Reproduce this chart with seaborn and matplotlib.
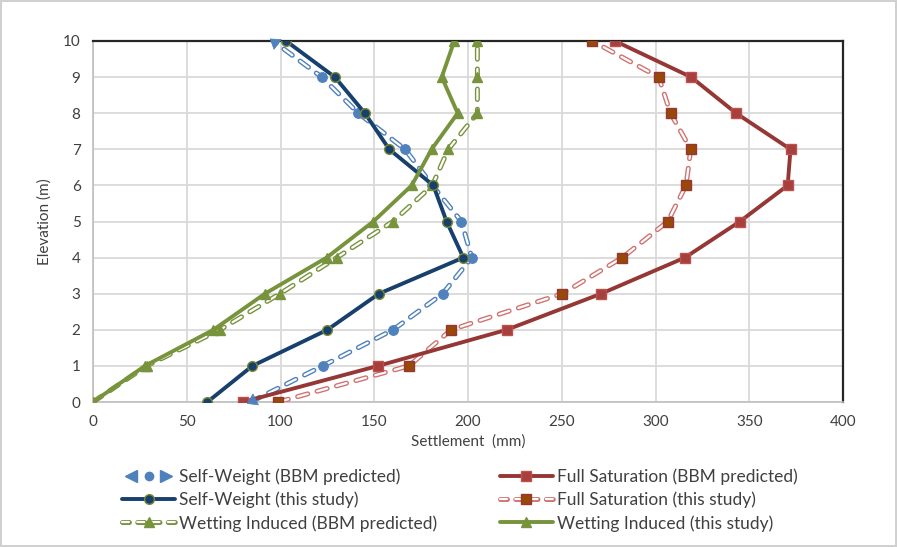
import numpy as np
import pandas as pd
import matplotlib
matplotlib.use("Agg")
import matplotlib.pyplot as plt
import seaborn as sns
from matplotlib.lines import Line2D
from matplotlib.legend_handler import HandlerTuple

# ---------------- data ----------------
elevation = [0, 1, 2, 3, 4, 5, 6, 7, 8, 9, 10]

sw_bbm   = [84, 122.5, 160, 186.5, 202, 196.5, 181, 166.4, 141.5, 122, 96]
sw_study = [61, 85, 125, 152.5, 197.5, 188.6, 181.5, 158, 145, 129, 103]
fs_bbm   = [80, 152, 220.6, 271, 315.7, 345, 370.5, 372, 343, 319, 278.4]
fs_study = [98.8, 168.5, 191, 250.3, 282.3, 306.5, 316.3, 318.8, 308, 301.7, 266.3]
wi_bbm   = [0, 28.6, 67.7, 99.7, 130, 160, 181, 189.5, 205, 205, 205]
wi_study = [0, 27.7, 64.2, 91.7, 124.6, 149.5, 170, 180.6, 194.5, 186, 192.7]

labels = ["Self-Weight (BBM predicted)", "Self-Weight (this study)",
          "Wetting Induced (BBM predicted)", "Full Saturation (BBM predicted)",
          "Full Saturation (this study)", "Wetting Induced (this study)"]
x_ticks = [0, 50, 100, 150, 200, 250, 300, 350, 400]
y_ticks = [0, 1, 2, 3, 4, 5, 6, 7, 8, 9, 10]

# ---------------- style ----------------
sns.set_style("white")
plt.rcParams["font.family"] = ["Lato", "DejaVu Sans"]
plt.rcParams["lines.scale_dashes"] = False

C_LBLUE = "#4F81BD"
C_DBLUE = "#17406D"
C_DRED = "#953735"
C_LRED = "#D07370"
C_BROWN = "#984807"
C_GREEN = "#77933C"
C_OLIVE = "#7A8A30"
TXT = "#404040"

fig = plt.figure(figsize=(8.97, 5.47), dpi=100)
ax = fig.add_axes([93/897, 1-402/547, 750/897, 361/547])
ax.set_xlim(0, 400)
ax.set_ylim(0, 10)

DASH = (0, (7.5, 7.0))


def solid(xv, col, marker, ms, mfc, mec, z):
    df = pd.DataFrame({"x": xv, "y": elevation})
    sns.lineplot(data=df, x="x", y="y", sort=False, estimator=None, ax=ax,
                 color=col, lw=2.8, marker=marker, markersize=ms,
                 markerfacecolor=mfc, markeredgecolor=mec, markeredgewidth=1.0,
                 zorder=z, solid_capstyle="round", solid_joinstyle="round")


def hollow(xv, col, marker, ms, mfc, mec, z):
    df = pd.DataFrame({"x": xv, "y": elevation})
    sns.lineplot(data=df, x="x", y="y", sort=False, estimator=None, ax=ax,
                 color=col, lw=3.6, linestyle=DASH, zorder=z,
                 dash_capstyle="round", dash_joinstyle="round")
    sns.lineplot(data=df, x="x", y="y", sort=False, estimator=None, ax=ax,
                 color="white", lw=1.6, linestyle=DASH, zorder=z + 0.1,
                 dash_capstyle="round", dash_joinstyle="round")
    if marker is not None:
        sns.lineplot(data=df, x="x", y="y", sort=False, estimator=None, ax=ax,
                     color=col, lw=0, marker=marker, markersize=ms,
                     markerfacecolor=mfc, markeredgecolor=mec, markeredgewidth=1.0,
                     zorder=z + 0.2)


# self-weight BBM: circles on interior points, arrowheads at both ends
df_sw = pd.DataFrame({"x": sw_bbm, "y": elevation})
hollow(sw_bbm, C_LBLUE, None, 7, C_LBLUE, C_LBLUE, 3)
sns.lineplot(data=df_sw.iloc[1:-1], x="x", y="y", sort=False, estimator=None, ax=ax,
             color=C_LBLUE, lw=0, marker="o", markersize=7, markerfacecolor=C_LBLUE,
             markeredgecolor=C_LBLUE, zorder=3.2)
solid(sw_study, C_DBLUE, "o", 7, C_DBLUE, C_OLIVE, 4)
hollow(fs_study, C_LRED, "s", 7.5, C_BROWN, C_DRED, 3)
solid(fs_bbm, C_DRED, "s", 7.5, "#A5403E", "#C0504D", 4)
hollow(wi_bbm, C_GREEN, "^", 7, C_GREEN, C_GREEN, 3)
solid(wi_study, C_GREEN, "^", 7, C_GREEN, C_GREEN, 4)

fig.canvas.draw()
for i, j in [(0, 1), (10, 9)]:
    p0 = ax.transData.transform((sw_bbm[i], elevation[i]))
    p1 = ax.transData.transform((sw_bbm[j], elevation[j]))
    d = (p0 - p1) / np.hypot(*(p0 - p1))
    tip = p0 + d * 4
    tail = p0 - d * 4
    ax.annotate("", xy=tip, xytext=tail, xycoords="figure pixels",
                textcoords="figure pixels",
                arrowprops=dict(arrowstyle="-|>,head_length=0.6,head_width=0.4",
                                color=C_LBLUE, lw=0.5, mutation_scale=11,
                                shrinkA=0, shrinkB=0),
                zorder=5, annotation_clip=False)

# ---------------- axes ----------------
ax.set_xticks(x_ticks)
ax.set_yticks(y_ticks)
ax.set_xticks(np.arange(0, 401, 10), minor=True)
ax.grid(True, which="major", color="#D9D9D9", lw=1.3)
ax.set_axisbelow(True)
ax.tick_params(axis="both", which="major", length=5, width=1, color="#BFBFBF",
               labelsize=11, labelcolor=TXT, direction="out", pad=4)
ax.tick_params(axis="x", which="minor", length=4, width=1, color="#BFBFBF",
               direction="out")
ax.tick_params(axis="y", which="minor", length=0)
for s in ["left", "bottom"]:
    ax.spines[s].set_color("#BFBFBF")
    ax.spines[s].set_linewidth(1.2)
for s in ["top", "right"]:
    ax.spines[s].set_color("#262626")
    ax.spines[s].set_linewidth(1.6)

ax.set_xlabel("Settlement  (mm)", fontsize=11, color=TXT, labelpad=4)
ax.set_ylabel("Elevation (m)", fontsize=11, color=TXT, labelpad=8)

# ---------------- legend ----------------
def h_hollow(col, marker, mfc, mec):
    return (Line2D([], [], color=col, lw=3.6, linestyle=(0, (5, 6)), dash_capstyle="round"),
            Line2D([], [], color="white", lw=1.6, linestyle=(0, (5, 6)), dash_capstyle="round"),
            Line2D([], [], lw=0, marker=marker, markersize=7, markerfacecolor=mfc,
                   markeredgecolor=mec))


def h_solid(col, marker, mfc, mec):
    return Line2D([], [], color=col, lw=2.8, marker=marker, markersize=7,
                  markerfacecolor=mfc, markeredgecolor=mec)


h_sw_bbm = (Line2D([], [], lw=0, marker="<", markersize=8, color=C_LBLUE),
            Line2D([], [], lw=0, marker="o", markersize=6, color=C_LBLUE),
            Line2D([], [], lw=0, marker=">", markersize=8, color=C_LBLUE))

handles = [h_sw_bbm,
           h_solid(C_DBLUE, "o", C_DBLUE, C_OLIVE),
           h_hollow(C_GREEN, "^", C_GREEN, C_GREEN),
           h_solid(C_DRED, "s", "#A5403E", "#C0504D"),
           h_hollow(C_LRED, "s", C_BROWN, C_DRED),
           h_solid(C_GREEN, "^", C_GREEN, C_GREEN)]

leg = fig.legend(handles, labels, ncol=2, loc="upper left",
                 bbox_to_anchor=(106/897, 1-453/547), frameon=False,
                 fontsize=12.5, handlelength=3.1, handletextpad=0.2,
                 columnspacing=3.6, labelspacing=0.38, labelcolor=TXT,
                 handler_map={h_sw_bbm: HandlerTuple(ndivide=None, pad=0.0)})

fig.patch.set_edgecolor("#D0D0D0")
fig.patch.set_linewidth(1.5)

fig.savefig("out.png", dpi=100, facecolor="white", edgecolor="#D0D0D0")
